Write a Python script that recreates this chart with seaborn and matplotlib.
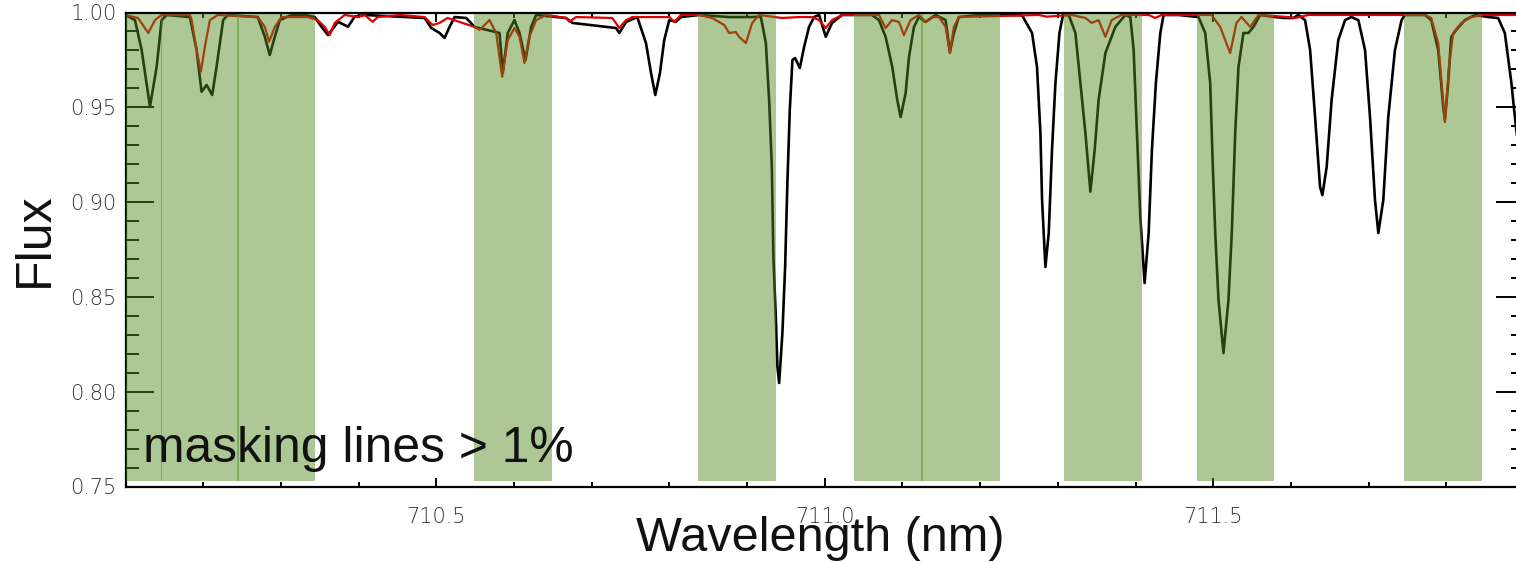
import numpy as np
import pandas as pd
import matplotlib
matplotlib.use("Agg")
import matplotlib.pyplot as plt
from matplotlib.ticker import MultipleLocator, FormatStrFormatter
import seaborn as sns

# ---------------- data ----------------
obs_wave = [710.100, 710.1122, 710.1208, 710.1315, 710.1401, 710.1465, 710.1530, 710.1829, 710.1915,
            710.1979, 710.2044, 710.2116, 710.2172, 710.2257, 710.2317, 710.2703, 710.2793, 710.2857,
            710.2922, 710.2986, 710.3136, 710.3307, 710.3436, 710.3522, 710.3607, 710.3735, 710.3864,
            710.3950, 710.4078, 710.4850, 710.4936, 710.5042, 710.5107, 710.5171, 710.5235, 710.5386,
            710.5492, 710.5814, 710.5856, 710.5920, 710.6006, 710.6071, 710.6148, 710.6221, 710.6285,
            710.6671, 710.6752, 710.7314, 710.7356, 710.7442, 710.7587, 710.7699, 710.7764, 710.7819,
            710.7879, 710.7934, 710.7999, 710.8085, 710.8149, 710.8384, 710.8770, 710.9066, 710.9177,
            710.9242, 710.9284, 710.9319, 710.9339, 710.9370, 710.9391, 710.9413, 710.9455, 710.9490,
            710.9519, 710.9550, 710.9584, 710.9618, 710.9679, 710.9734, 710.9798, 710.9862, 710.9927,
            711.0013, 711.0094, 711.0222, 711.0441, 711.0608, 711.0698, 711.0784, 711.0869, 711.0933,
            711.0977, 711.1041, 711.1084, 711.1148, 711.1212, 711.1298, 711.1427, 711.1555, 711.1611,
            711.1662, 711.1726, 711.1983, 711.2253, 711.2407, 711.2540, 711.2668, 711.2732, 711.2776,
            711.2797, 711.2840, 711.2883, 711.2925, 711.2969, 711.3021, 711.3067, 711.3140, 711.3226,
            711.3290, 711.3355, 711.3419, 711.3474, 711.3525, 711.3612, 711.3740, 711.3869, 711.3933,
            711.3976, 711.4018, 711.4062, 711.4117, 711.4169, 711.4211, 711.4262, 711.4319, 711.4361,
            711.4554, 711.4811, 711.4897, 711.4961, 711.4995, 711.5026, 711.5068, 711.5132, 711.5196,
            711.5239, 711.5283, 711.5325, 711.5389, 711.5453, 711.5518, 711.5604, 711.5797, 711.5925,
            711.6032, 711.6096, 711.6182, 711.6247, 711.6311, 711.6375, 711.6405, 711.6460, 711.6524,
            711.6610, 711.6697, 711.6778, 711.6868, 711.6954, 711.7018, 711.7082, 711.7125, 711.7189,
            711.7253, 711.7339, 711.7424, 711.7468, 711.7725, 711.7806, 711.7896, 711.7960, 711.7982,
            711.8024, 711.8063, 711.8127, 711.8239, 711.8368, 711.8538, 711.8667, 711.8753, 711.8838,
            711.8873, 711.8950]
obs_flux = [0.9987, 0.9960, 0.9802, 0.9503, 0.9714, 0.9960, 0.9987, 0.9976, 0.9802,
            0.9582, 0.9618, 0.9565, 0.9714, 0.9960, 0.9987, 0.9976, 0.9872, 0.9776,
            0.9872, 0.9960, 0.9987, 0.9987, 0.9976, 0.9925, 0.9881, 0.9951, 0.9925,
            0.9978, 0.9987, 0.9971, 0.9918, 0.9892, 0.9866, 0.9924, 0.9976, 0.9971,
            0.9924, 0.9892, 0.9681, 0.9892, 0.9960, 0.9892, 0.9749, 0.9924, 0.9987,
            0.9971, 0.9945, 0.9918, 0.9892, 0.9950, 0.9976, 0.9839, 0.9681, 0.9565,
            0.9681, 0.9855, 0.9960, 0.9951, 0.9976, 0.9987, 0.9976, 0.9976, 0.9978,
            0.9839, 0.9539, 0.9185, 0.8710, 0.8394, 0.8130, 0.8046, 0.8310, 0.8658,
            0.9101, 0.9486, 0.9749, 0.9760, 0.9707, 0.9818, 0.9924, 0.9976, 0.9987,
            0.9872, 0.9945, 0.9987, 0.9987, 0.9987, 0.9960, 0.9871, 0.9713, 0.9539,
            0.9449, 0.9575, 0.9765, 0.9924, 0.9976, 0.9950, 0.9987, 0.9960, 0.9792,
            0.9892, 0.9976, 0.9987, 0.9987, 0.9987, 0.9985, 0.9892, 0.9713, 0.9364,
            0.9011, 0.8658, 0.8837, 0.9275, 0.9628, 0.9892, 0.9987, 0.9987, 0.9892,
            0.9628, 0.9364, 0.9055, 0.9275, 0.9539, 0.9786, 0.9924, 0.9987, 0.9976,
            0.9802, 0.9364, 0.8921, 0.8573, 0.8837, 0.9275, 0.9628, 0.9892, 0.9987,
            0.9987, 0.9976, 0.9892, 0.9628, 0.9185, 0.8837, 0.8484, 0.8204, 0.8484,
            0.8837, 0.9364, 0.9713, 0.9892, 0.9892, 0.9924, 0.9987, 0.9976, 0.9971,
            0.9971, 0.9987, 0.9960, 0.9802, 0.9449, 0.9080, 0.9037, 0.9185, 0.9539,
            0.9855, 0.9960, 0.9976, 0.9960, 0.9802, 0.9449, 0.9011, 0.8837, 0.9011,
            0.9449, 0.9802, 0.9960, 0.9987, 0.9987, 0.9960, 0.9802, 0.9502, 0.9433,
            0.9628, 0.9871, 0.9908, 0.9960, 0.9987, 0.9976, 0.9971, 0.9892, 0.9628,
            0.9486, 0.9200]

mod_wave = [710.100, 710.1161, 710.1293, 710.1379, 710.1465, 710.1829, 710.1851, 710.1915, 710.1970,
            710.2022, 710.2086, 710.2189, 710.2703, 710.2793, 710.2848, 710.2922, 710.3008, 710.3346,
            710.3474, 710.3564, 710.3628, 710.3693, 710.3821, 710.3988, 710.4078, 710.4181, 710.4246,
            710.4528, 710.4850, 710.4953, 710.5042, 710.5145, 710.5492, 710.5557, 710.5685, 710.5771,
            710.5848, 710.5920, 710.6006, 710.6071, 710.6135, 710.6199, 710.6285, 710.6414, 710.6671,
            710.6713, 710.6799, 710.7266, 710.7356, 710.7442, 710.7523, 710.7999, 710.8063, 710.8149,
            710.8384, 710.8551, 710.8706, 710.8770, 710.8856, 710.8898, 710.8985, 710.9066, 710.9156,
            710.9451, 710.9670, 710.9837, 710.9927, 711.0013, 711.0094, 711.0222, 711.0698, 711.0784,
            711.0865, 711.0955, 711.1019, 711.1105, 711.1212, 711.1298, 711.1379, 711.1469, 711.1555,
            711.1611, 711.1662, 711.1726, 711.2754, 711.2857, 711.3179, 711.3355, 711.3436, 711.3525,
            711.3612, 711.3693, 711.3821, 711.4169, 711.4254, 711.4336, 711.4978, 711.5090, 711.5218,
            711.5299, 711.5364, 711.5476, 711.5582, 711.5968, 711.6054, 711.6225, 711.7725, 711.7806,
            711.7896, 711.7982, 711.8034, 711.8089, 711.8192, 711.8320, 711.8475, 711.9000]
mod_flux = [0.9987, 0.9971, 0.9892, 0.9960, 0.9987, 0.9987, 0.9960, 0.9802, 0.9688,
            0.9820, 0.9960, 0.9987, 0.9976, 0.9924, 0.9846, 0.9924, 0.9976, 0.9976,
            0.9960, 0.9924, 0.9881, 0.9945, 0.9987, 0.9976, 0.9987, 0.9951, 0.9976,
            0.9987, 0.9976, 0.9934, 0.9945, 0.9971, 0.9924, 0.9908, 0.9960, 0.9892,
            0.9661, 0.9855, 0.9918, 0.9872, 0.9734, 0.9872, 0.9960, 0.9987, 0.9971,
            0.9951, 0.9976, 0.9971, 0.9918, 0.9960, 0.9976, 0.9976, 0.9951, 0.9987,
            0.9987, 0.9971, 0.9934, 0.9892, 0.9897, 0.9871, 0.9839, 0.9945, 0.9987,
            0.9971, 0.9976, 0.9976, 0.9960, 0.9918, 0.9960, 0.9987, 0.9987, 0.9918,
            0.9960, 0.9950, 0.9881, 0.9960, 0.9987, 0.9950, 0.9976, 0.9976, 0.9924,
            0.9786, 0.9924, 0.9976, 0.9987, 0.9978, 0.9987, 0.9971, 0.9945, 0.9960,
            0.9872, 0.9960, 0.9987, 0.9987, 0.9971, 0.9987, 0.9987, 0.9924, 0.9786,
            0.9945, 0.9976, 0.9924, 0.9987, 0.9976, 0.9971, 0.9987, 0.9987, 0.9971,
            0.9839, 0.9422, 0.9714, 0.9892, 0.9945, 0.9976, 0.9987, 0.9987]

# masked wavelength windows (start, end)
mask_start = [710.080, 710.1455, 710.2440, 710.5490, 710.8371, 711.0377, 711.1245, 711.3076, 711.4788, 711.7459]
mask_end   = [710.1475, 710.2460, 710.3445, 710.6491, 710.9370, 711.1260, 711.2253, 711.4081, 711.5788, 711.8465]

annotation = "masking lines > 1%"
xlim = (710.1, 711.9)
ylim = (0.75, 1.00)

# ---------------- style ----------------
sns.set_style("ticks")
plt.rcParams['font.family'] = ['Liberation Sans', 'DejaVu Sans']

W, H, DPI = 1516, 562, 100
fig = plt.figure(figsize=(W / DPI, H / DPI), dpi=DPI)
L, R, T, B = 125.5, 1524.0, 12.5, 486.5
ax = fig.add_axes([L / W, 1 - B / H, (R - L) / W, (B - T) / H])

obs = pd.DataFrame({"wavelength": obs_wave, "flux": obs_flux})
mod = pd.DataFrame({"wavelength": mod_wave, "flux": mod_flux})

sns.lineplot(data=obs, x="wavelength", y="flux", color="black", lw=1.9,
             sort=False, estimator=None, ax=ax, zorder=2)
sns.lineplot(data=mod, x="wavelength", y="flux", color="#e30000", lw=1.6,
             sort=False, estimator=None, ax=ax, zorder=2.2)

for s, e in zip(mask_start, mask_end):
    ax.axvspan(s, e, ymin=0.0116, ymax=0.997, facecolor="#518c1e", alpha=0.47,
               lw=0, zorder=3)

ax.set_xlim(*xlim)
ax.set_ylim(*ylim)

ax.xaxis.set_major_locator(MultipleLocator(0.5))
ax.xaxis.set_minor_locator(MultipleLocator(0.1))
ax.yaxis.set_major_locator(MultipleLocator(0.05))
ax.yaxis.set_minor_locator(MultipleLocator(0.01))
ax.xaxis.set_major_formatter(FormatStrFormatter("%.1f"))
ax.yaxis.set_major_formatter(FormatStrFormatter("%.2f"))

ax.tick_params(axis="both", which="both", direction="in", top=True, right=True,
               color="black", width=1.4)
ax.tick_params(axis="y", which="major", length=20, pad=6.5)
ax.tick_params(axis="y", which="minor", length=9.5)
ax.tick_params(axis="x", which="major", length=6.5, pad=15.0)
ax.tick_params(axis="x", which="minor", length=3.6)
for lab in ax.get_xticklabels() + ax.get_yticklabels():
    lab.set_fontfamily(["DejaVu Sans"])
    lab.set_fontweight("light")
    lab.set_fontsize(15)
    lab.set_color("#333333")
for sp in ax.spines.values():
    sp.set_linewidth(1.6)
    sp.set_color("black")

ax.set_xlabel("Wavelength (nm)", fontsize=35, color="#111111")
ax.xaxis.set_label_coords(0.4966, -0.062)
ax.set_ylabel("Flux", fontsize=36, color="#111111")
ax.yaxis.set_label_coords(-0.048, 0.52)

ax.text(0.0125, 0.0517, annotation, transform=ax.transAxes, fontsize=35.8,
        ha="left", va="baseline", color="#111111", zorder=6)

fig.savefig("out.png", dpi=DPI)
